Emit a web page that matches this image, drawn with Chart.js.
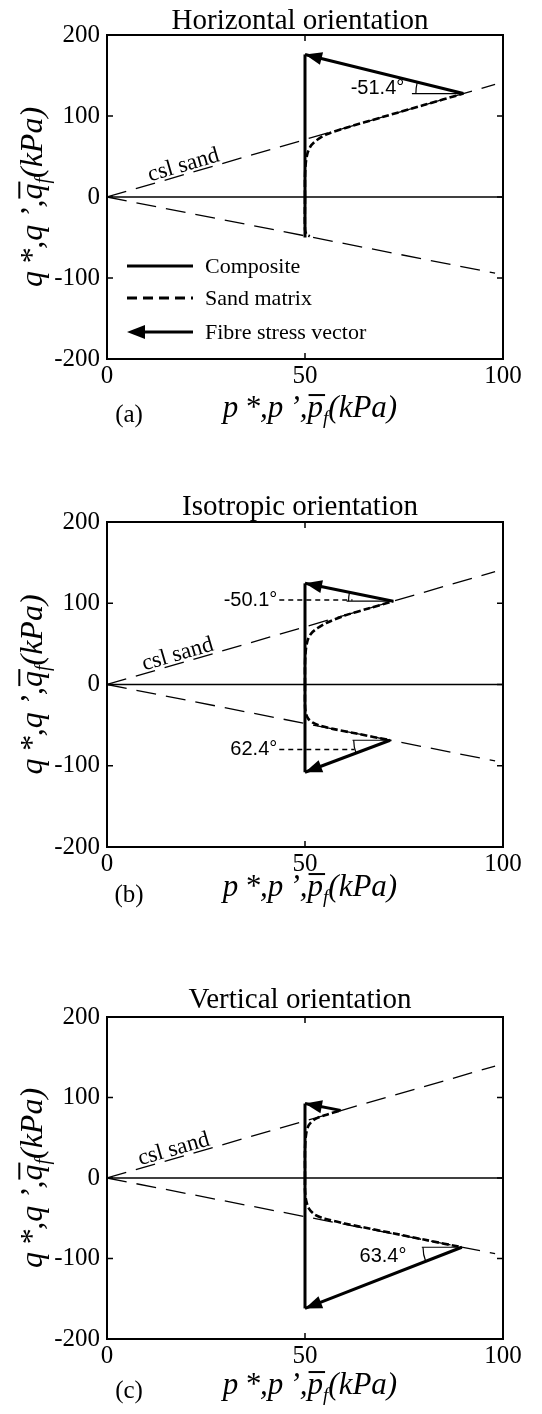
<!DOCTYPE html>
<html>
<head>
<meta charset="utf-8">
<script src="https://cdn.jsdelivr.net/npm/chart.js@4.4.1/dist/chart.umd.min.js"></script>
<style>
  html, body { margin: 0; padding: 0; background: #fff; }
  #wrap { position: relative; width: 542px; height: 1414px; background: #fff; }
  #wrap canvas { position: absolute; left: 0; }
</style>
</head>
<body>
<div id="wrap">
  <canvas id="panelA" width="542" height="440" style="top:0px"></canvas>
  <canvas id="panelB" width="542" height="470" style="top:440px"></canvas>
  <canvas id="panelC" width="542" height="504" style="top:910px"></canvas>
</div>
<script>
// ---------- axes ----------
const pTicks = [0, 50, 100];
const qTicks = [-200, -100, 0, 100, 200];

// ---------- critical state lines of the sand (kPa) ----------
const cslP = [0, 98];
const cslCompQ = [0, 139];
const cslExtQ = [0, -94];
const zeroP = [0, 100];
const zeroQ = [0, 0];

// ---------- (a) horizontal orientation ----------
const hCompositeP = [50, 50];
const hCompositeQ = [-50, 176];
const hSandCompP = [50, 50, 50.2, 50.7, 51.6, 53.2, 55.5, 60, 70, 80, 90];
const hSandCompQ = [0, 25, 42, 55, 64, 71, 77.5, 85, 99.3, 113.5, 127.7];
const hSandExtP = [50, 50, 50.4, 51.2];
const hSandExtQ = [0, -40, -46.5, -48.5];
const hFibreP = [90, 50];
const hFibreQ = [127.7, 176];
const hAngleP = [77, 90];
const hAngleQ = [127.7, 127.7];

// ---------- (b) isotropic orientation ----------
const iCompositeP = [50, 50];
const iCompositeQ = [-108, 124.5];
const iSandCompP = [50, 50, 50.2, 50.7, 51.6, 53.2, 55.5, 60, 66, 72.3];
const iSandCompQ = [0, 25, 42, 55, 63, 69.5, 76, 84.8, 93.6, 102.5];
const iSandExtP = [50, 50, 50.2, 50.8, 52, 54, 57, 63, 71.5];
const iSandExtQ = [0, -25, -35, -42, -47, -51, -54.6, -60.4, -68.6];
const iFibreCompP = [72.3, 50];
const iFibreCompQ = [102.5, 124.5];
const iFibreExtP = [71.5, 50];
const iFibreExtQ = [-68.6, -108];
const iAngleCompP = [60.5, 72.3];
const iAngleCompQ = [102.5, 102.5];
const iLeaderCompP = [43.5, 62];
const iLeaderCompQ = [104, 104];
const iAngleExtP = [62, 71.5];
const iAngleExtQ = [-68.6, -68.6];
const iLeaderExtP = [43.5, 62.5];
const iLeaderExtQ = [-80, -80];

// ---------- (c) vertical orientation ----------
const vCompositeP = [50, 50];
const vCompositeQ = [-162, 92.5];
const vSandCompP = [50, 50, 50.3, 51, 52.5, 55, 59];
const vSandCompQ = [0, 35, 55, 66, 73, 78, 84];
const vSandExtP = [50, 50, 50.3, 51, 52.5, 55, 60, 70, 80, 89.6];
const vSandExtQ = [0, -15, -28, -38, -45.5, -50.5, -56.5, -66.4, -76.5, -86];
const vFibreCompP = [59, 50];
const vFibreCompQ = [84, 92.5];
const vFibreExtP = [89.6, 50];
const vFibreExtQ = [-86, -162];
const vAngleP = [79.5, 89.6];
const vAngleQ = [-86, -86];

const SERIF = "'Liberation Serif', 'Times New Roman', serif";
const SANS = "'Liberation Sans', Arial, sans-serif";

function pts(P, Q) { return P.map((p, i) => ({ x: p, y: Q[i] })); }

function line(P, Q, width, dash, extra) {
  return Object.assign({
    data: pts(P, Q), showLine: true, pointRadius: 0, pointHoverRadius: 0,
    borderColor: '#000', backgroundColor: '#000', borderWidth: width,
    borderDash: dash || [], fill: false, tension: 0, borderCapStyle: 'butt'
  }, extra || {});
}

function cslSets() {
  return [
    line(cslP, cslCompQ, 1.3, [20, 10]),
    line(cslP, cslExtQ, 1.3, [20, 10]),
    line(zeroP, zeroQ, 1.6)
  ];
}

// p*, p', p-bar_f (kPa) style axis title, centred at the origin, baseline y = 0
function drawQuantity(ctx, sym, size) {
  const main = 'italic ' + size + 'px ' + SERIF;
  const sub = 'italic ' + Math.round(size * 0.62) + 'px ' + SERIF;
  const parts = [
    { t: sym + '\u2009*,' + sym + '\u2009\u2019,', f: main, dy: 0 },
    { t: sym, f: main, dy: 0, bar: true },
    { t: 'f', f: sub, dy: size * 0.22 },
    { t: '(kPa)', f: main, dy: 0 }
  ];
  let total = 0;
  parts.forEach(pt => { ctx.font = pt.f; pt.w = ctx.measureText(pt.t).width; total += pt.w; });
  let x = -total / 2;
  ctx.textAlign = 'left';
  ctx.textBaseline = 'alphabetic';
  parts.forEach(pt => {
    ctx.font = pt.f;
    ctx.fillText(pt.t, x, pt.dy);
    if (pt.bar) {
      ctx.fillRect(x + 1, -size * 0.74, pt.w + 1, 2);
    }
    x += pt.w;
  });
}

function makeDecor(spec) {
  return {
    id: 'panelDecor',
    afterDatasetsDraw(chart) {
      const ctx = chart.ctx;
      const a = chart.chartArea;
      const xs = chart.scales.x, ys = chart.scales.y;
      const X = v => xs.getPixelForValue(v), Y = v => ys.getPixelForValue(v);
      ctx.save();
      ctx.fillStyle = '#000';
      ctx.strokeStyle = '#000';

      // frame
      ctx.lineWidth = 2;
      ctx.strokeRect(a.left, a.top, a.right - a.left, a.bottom - a.top);
      // inward tick marks
      ctx.lineWidth = 1.5;
      ctx.beginPath();
      qTicks.forEach(v => {
        const y = Y(v);
        ctx.moveTo(a.left, y); ctx.lineTo(a.left + 6, y);
        ctx.moveTo(a.right, y); ctx.lineTo(a.right - 6, y);
      });
      pTicks.forEach(v => {
        const x = X(v);
        ctx.moveTo(x, a.bottom); ctx.lineTo(x, a.bottom - 6);
        ctx.moveTo(x, a.top); ctx.lineTo(x, a.top + 6);
      });
      ctx.stroke();

      // arrowheads on fibre stress vectors
      chart.data.datasets.forEach((ds, i) => {
        if (!ds.arrow) return;
        const meta = chart.getDatasetMeta(i);
        const n = meta.data.length;
        const tip = meta.data[n - 1], tail = meta.data[n - 2];
        const th = Math.atan2(tip.y - tail.y, tip.x - tail.x);
        drawHead(ctx, tip.x, tip.y, th, 17, 6.5);
      });

      // angle arcs at the tail of the vectors
      ctx.lineWidth = 1.2;
      spec.arcs.forEach(ac => {
        const tx = X(ac.tail[0]), ty = Y(ac.tail[1]);
        const hx = X(ac.tip[0]), hy = Y(ac.tip[1]);
        const r = tx - X(ac.at);
        let s = Math.PI, e = Math.atan2(hy - ty, hx - tx);
        if (e < 0) e += 2 * Math.PI;
        ctx.beginPath();
        ctx.arc(tx, ty, r, s, e, e < s);
        ctx.stroke();
      });

      // angle labels
      ctx.font = '20px ' + SANS;
      ctx.textBaseline = 'middle';
      spec.labels.forEach(lb => {
        ctx.textAlign = lb.align;
        ctx.fillText(lb.text, X(lb.p), Y(lb.q));
      });

      // "csl sand" along the compression critical state line
      const x0 = X(cslP[0]), y0 = Y(cslCompQ[0]);
      const x1 = X(cslP[1]), y1 = Y(cslCompQ[1]);
      const ang = Math.atan2(y1 - y0, x1 - x0);
      const cp = spec.cslAt;
      const cx = X(cp), cy = Y(cp * cslCompQ[1] / cslP[1]);
      ctx.save();
      ctx.translate(cx, cy);
      ctx.rotate(ang);
      ctx.font = '23px ' + SERIF;
      ctx.textAlign = 'center';
      ctx.textBaseline = 'alphabetic';
      ctx.fillText('csl sand', 0, -3);
      ctx.restore();

      // title
      ctx.font = '29px ' + SERIF;
      ctx.textAlign = 'center';
      ctx.textBaseline = 'alphabetic';
      ctx.fillText(spec.title, (a.left + a.right) / 2 - 5, a.top - spec.titleGap);

      // axis titles
      ctx.save();
      ctx.translate((a.left + a.right) / 2 + 5, a.bottom + spec.xTitleGap);
      drawQuantity(ctx, 'p', 31);
      ctx.restore();
      ctx.save();
      ctx.translate(42, (a.top + a.bottom) / 2);
      ctx.rotate(-Math.PI / 2);
      drawQuantity(ctx, 'q', 32);
      ctx.restore();

      // panel letter
      ctx.font = '25px ' + SERIF;
      ctx.textAlign = 'center';
      ctx.fillText(spec.letter, 129, a.bottom + spec.letterGap);

      // legend
      if (spec.legend) {
        const lx0 = a.left + 20, lx1 = a.left + 86, tx = a.left + 98;
        const rows = [231, 263, 297].map(d => a.top + d);
        ctx.lineWidth = 3;
        ctx.beginPath(); ctx.moveTo(lx0, rows[0]); ctx.lineTo(lx1, rows[0]); ctx.stroke();
        ctx.setLineDash([10, 6]);
        ctx.beginPath(); ctx.moveTo(lx0, rows[1]); ctx.lineTo(lx1, rows[1]); ctx.stroke();
        ctx.setLineDash([]);
        ctx.beginPath(); ctx.moveTo(lx0 + 10, rows[2]); ctx.lineTo(lx1, rows[2]); ctx.stroke();
        drawHead(ctx, lx0, rows[2], Math.PI, 18, 7);
        ctx.font = '22px ' + SERIF;
        ctx.textAlign = 'left';
        ctx.textBaseline = 'middle';
        ['Composite', 'Sand matrix', 'Fibre stress vector'].forEach((t, i) => ctx.fillText(t, tx, rows[i] + 1));
      }
      ctx.restore();
    }
  };
}

function drawHead(ctx, x, y, th, L, W) {
  const bx = x - L * Math.cos(th), by = y - L * Math.sin(th);
  const nx = -Math.sin(th), ny = Math.cos(th);
  ctx.beginPath();
  ctx.moveTo(x, y);
  ctx.lineTo(bx + W * nx, by + W * ny);
  ctx.lineTo(bx - W * nx, by - W * ny);
  ctx.closePath();
  ctx.fill();
}

function build(id, padTop, padBottom, datasets, spec) {
  new Chart(document.getElementById(id), {
    type: 'scatter',
    data: { datasets: datasets },
    options: {
      responsive: false,
      animation: false,
      events: [],
      layout: { padding: { left: 0, right: 39, top: padTop, bottom: padBottom } },
      plugins: { legend: { display: false }, tooltip: { enabled: false }, title: { display: false } },
      scales: {
        x: {
          type: 'linear', min: 0, max: 100,
          afterBuildTicks: s => { s.ticks = pTicks.map(v => ({ value: v })); },
          afterFit: s => { s.height = 40; },
          grid: { display: false, drawTicks: false },
          border: { display: false },
          ticks: { color: '#000', font: { family: SERIF, size: 25 }, padding: 2, maxRotation: 0 }
        },
        y: {
          type: 'linear', min: -200, max: 200,
          afterBuildTicks: s => { s.ticks = qTicks.map(v => ({ value: v })); },
          afterFit: s => { s.width = 107; },
          grid: { display: false, drawTicks: false },
          border: { display: false },
          ticks: { color: '#000', font: { family: SERIF, size: 25 }, padding: 7 }
        }
      }
    },
    plugins: [makeDecor(spec)]
  });
}

const SAND_DASH = [7, 3];

// (a)
build('panelA', 35, 41, [
  ...cslSets(),
  line(hAngleP, hAngleQ, 1.2),
  line(hSandCompP, hSandCompQ, 2.6, SAND_DASH, { tension: 0.3 }),
  line(hSandExtP, hSandExtQ, 2.6, SAND_DASH, { tension: 0.3 }),
  line(hCompositeP, hCompositeQ, 3),
  line(hFibreP, hFibreQ, 3, [], { arrow: true })
], {
  title: 'Horizontal orientation', titleGap: 6, xTitleGap: 58, letterGap: 63, letter: '(a)',
  cslAt: 20, legend: true,
  arcs: [{ tail: [hFibreP[0], hFibreQ[0]], tip: [hFibreP[1], hFibreQ[1]], at: 78 }],
  labels: [{ text: '-51.4\u00b0', p: 68.3, q: 134, align: 'center' }]
});

// (b)
build('panelB', 82, 23, [
  ...cslSets(),
  line(iLeaderCompP, iLeaderCompQ, 1.3, [5, 4]),
  line(iLeaderExtP, iLeaderExtQ, 1.3, [5, 4]),
  line(iAngleCompP, iAngleCompQ, 1.2),
  line(iAngleExtP, iAngleExtQ, 1.2),
  line(iSandCompP, iSandCompQ, 2.6, SAND_DASH, { tension: 0.3 }),
  line(iSandExtP, iSandExtQ, 2.6, SAND_DASH, { tension: 0.3 }),
  line(iCompositeP, iCompositeQ, 3),
  line(iFibreCompP, iFibreCompQ, 3, [], { arrow: true }),
  line(iFibreExtP, iFibreExtQ, 3, [], { arrow: true })
], {
  title: 'Isotropic orientation', titleGap: 7, xTitleGap: 49, letterGap: 55, letter: '(b)',
  cslAt: 18.5, legend: false,
  arcs: [
    { tail: [iFibreCompP[0], iFibreCompQ[0]], tip: [iFibreCompP[1], iFibreCompQ[1]], at: 61 },
    { tail: [iFibreExtP[0], iFibreExtQ[0]], tip: [iFibreExtP[1], iFibreExtQ[1]], at: 62.3 }
  ],
  labels: [
    { text: '-50.1\u00b0', p: 43, q: 104, align: 'right' },
    { text: '62.4\u00b0', p: 43, q: -80, align: 'right' }
  ]
});

// (c)
build('panelC', 107, 35, [
  ...cslSets(),
  line(vAngleP, vAngleQ, 1.2),
  line(vSandCompP, vSandCompQ, 2.6, SAND_DASH, { tension: 0.3 }),
  line(vSandExtP, vSandExtQ, 2.6, SAND_DASH, { tension: 0.3 }),
  line(vCompositeP, vCompositeQ, 3),
  line(vFibreCompP, vFibreCompQ, 3, [], { arrow: true }),
  line(vFibreExtP, vFibreExtQ, 3, [], { arrow: true })
], {
  title: 'Vertical orientation', titleGap: 9, xTitleGap: 55, letterGap: 59, letter: '(c)',
  cslAt: 17.5, legend: false,
  arcs: [{ tail: [vFibreExtP[0], vFibreExtQ[0]], tip: [vFibreExtP[1], vFibreExtQ[1]], at: 79.8 }],
  labels: [{ text: '63.4\u00b0', p: 69.7, q: -98, align: 'center' }]
});
</script>
</body>
</html>
